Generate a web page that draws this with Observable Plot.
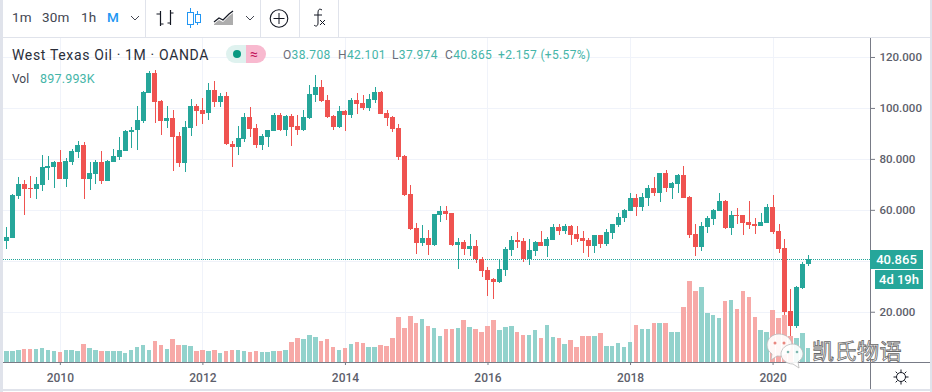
<!DOCTYPE html>
<html lang="en">
<head>
<meta charset="utf-8">
<title>West Texas Oil · 1M · OANDA</title>
<script src="https://cdn.jsdelivr.net/npm/d3@7"></script>
<script src="https://cdn.jsdelivr.net/npm/@observablehq/plot@0.6"></script>
<style>
html,body{margin:0;padding:0;background:#fff;}
#page{position:relative;width:932px;height:392px;overflow:hidden;font-family:Roboto,"Noto Sans",sans-serif;color:#131722;}
#chart{position:absolute;left:0;top:0;}
#chart svg{display:block;background:transparent;}
.t{position:absolute;white-space:pre;line-height:1;}
.line{position:absolute;}
.tb{font-size:13.5px;color:#434651;top:11px;letter-spacing:.2px;}
.up{color:#45b5a8;}
.lab{color:#6a6d78;}
.tag{position:absolute;background:#26a69a;color:#fff;font-weight:500;font-size:13px;text-align:center;}
.ohlc{top:49px;font-size:12px;letter-spacing:.35px;}
</style>
</head>
<body>
<div id="page">
  <div id="chart"></div>

  <div class="line" style="left:0;top:0;width:3px;height:392px;background:#e0e3eb"></div>
  <div class="line" style="left:930px;top:0;width:2px;height:392px;background:#e0e3eb"></div>
  <div class="line" style="left:3px;top:37px;width:927px;height:1px;background:#e0e3eb"></div>
  <div class="line" style="left:3px;top:362px;width:927px;height:1px;background:#787b86"></div>
  <div class="line" style="left:870px;top:38px;width:1px;height:351px;background:#787b86"></div>
  <div class="line" style="left:3px;top:389px;width:927px;height:2px;background:#e0e3eb"></div>
  <div class="line" style="left:145px;top:0;width:1px;height:37px;background:#e0e3eb"></div>
  <div class="line" style="left:260px;top:0;width:1px;height:37px;background:#e0e3eb"></div>
  <div class="line" style="left:299px;top:0;width:1px;height:37px;background:#e0e3eb"></div>
  <div class="line" style="left:338px;top:0;width:1px;height:37px;background:#e0e3eb"></div>

  <span class="t tb" style="left:12px">1m</span>
  <span class="t tb" style="left:42px">30m</span>
  <span class="t tb" style="left:81px">1h</span>
  <span class="t tb" style="left:107px;color:#2196f3;font-weight:500">M</span>

  <svg style="position:absolute;left:0;top:0" width="345" height="37" fill="none">
    <path d="M131 16l4 4 4-4M246 16l4 4 4-4" stroke="#434651"/>
    <path d="M160.500 11v15M160.500 14h-4M160.500 24h3M170.500 10v15M170.500 13h3M170.500 23h-3" stroke="#131722" stroke-width="1.200"/>
    <path d="M190.500 8v20M197.500 11v14" stroke="#2196f3"/>
    <rect x="187.500" y="12.500" width="6" height="12" fill="#fff" stroke="#2196f3"/>
    <rect x="195.500" y="14.500" width="5" height="8" fill="#fff" stroke="#2196f3"/>
    <path d="M214 22l5-4 4 2 6-6 4-3" stroke="#131722" stroke-width="1.200"/>
    <path d="M214 24l5-4 4 2 6-6 4-3v12h-19z" fill="#777" opacity=".6"/>
    <circle cx="279" cy="18.500" r="8.800" stroke="#131722" stroke-width="1.100"/>
    <path d="M279 13v11M273.500 18.500h11" stroke="#131722"/>
    <path d="M322 10c-3-2-4 0-4 3v10c0 3-2 4-4 2M314 15h8" stroke="#131722"/>
    <path d="M320 20l5 5M325 20l-5 5" stroke="#131722"/>
  </svg>

  <span class="t" style="left:12px;top:48px;font-size:14px;letter-spacing:.65px;color:#2a2e39">West Texas Oil · 1M · OANDA</span>
  <div class="line" style="left:226px;top:45px;width:20px;height:18px;background:#dff2ef;border-radius:9px 0 0 9px"></div>
  <div class="line" style="left:246px;top:45px;width:20px;height:18px;background:#f8b9cf;border-radius:0 9px 9px 0"></div>
  <div class="line" style="left:233px;top:50px;width:8px;height:8px;background:#089981;border-radius:50%"></div>
  <span class="t" style="left:250px;top:47px;font-size:14px;color:#c2185b">≈</span>
  <span class="t up ohlc" style="left:283px"><span class="lab">O</span>38.708</span>
  <span class="t up ohlc" style="left:338px"><span class="lab">H</span>42.101</span>
  <span class="t up ohlc" style="left:392px"><span class="lab">L</span>37.974</span>
  <span class="t up ohlc" style="left:445px"><span class="lab">C</span>40.865</span>
  <span class="t up ohlc" style="left:498px">+2.157 (+5.57%)</span>
  <span class="t" style="left:12px;top:73px;font-size:12px;color:#434651">Vol</span>
  <span class="t up" style="left:40px;top:73px;font-size:12.500px;letter-spacing:.2px">897.993K</span>

  <div class="tag" style="left:870px;top:250px;width:53px;height:19px;line-height:19px">40.865</div>
  <div class="tag" style="left:875px;top:270px;width:48px;height:19px;line-height:19px">4d 19h</div>

  <svg style="position:absolute;left:893px;top:369px" width="16" height="16" fill="none" stroke="#131722">
    <circle cx="8" cy="8" r="4.500"/>
    <path d="M8 .5v2.500M8 13v2.500M.5 8H3M13 8h2.500M2.700 2.700l1.800 1.800M11.500 11.500l1.800 1.800M2.700 13.300l1.800-1.800M11.500 4.500l1.800-1.800"/>
  </svg>

  <svg style="position:absolute;left:765px;top:333px" width="48" height="36">
    <path d="M14 1C7 1 2 6 2 12c0 4 2 7 5 9l-1 6 6-4c7 1 15-3 15-11 0-6-6-11-13-11z" fill="#fff" fill-opacity=".9" stroke="#b9b9b9" stroke-width=".8"/>
    <circle cx="10" cy="10" r="1.500" fill="#e9877f"/><circle cx="19" cy="10" r="1.500" fill="#e9877f"/>
    <path d="M28 11c-7 0-12 5-12 10s5 10 12 10l6 4-1-6c3-2 5-5 5-8 0-5-5-10-10-10z" fill="#fff" fill-opacity=".9" stroke="#b9b9b9" stroke-width=".8"/>
    <circle cx="23" cy="19" r="1.300" fill="#7fb7b0"/><circle cx="32" cy="19" r="1.300" fill="#7fb7b0"/>
  </svg>
  <span class="t" style="left:812px;top:338px;font-family:'Noto Sans CJK SC';font-size:22px;letter-spacing:.5px;color:#fff;-webkit-text-stroke:.8px #666">凯氏物语</span>
</div>

<script>
const startYear = 2009, startMonth = 3; // first candle: April 2009
const opens = [47.8,49.0,65.5,70.2,68.6,68.2,69.8,76.5,76.9,78.8,72.2,78.8,82.7,85.5,72.2,74.1,78.8,71.4,78.8,80.8,83.1,90.6,91.4,95.0,106.0,113.9,102.7,95.0,96.2,89.0,78.4,92.3,100.8,99.2,97.9,107.0,102.3,104.7,86.0,84.7,87.8,96.5,92.2,85.5,88.6,91.0,97.3,91.4,96.9,92.9,91.4,96.1,105.1,108.2,103.1,96.9,92.5,98.8,97.3,103.1,102.0,100.0,103.1,106.3,98.0,96.5,92.2,81.2,66.3,53.0,47.0,49.0,46.3,58.0,59.6,58.8,46.3,47.5,44.7,45.9,40.8,36.5,33.0,31.8,36.5,44.3,48.2,47.8,40.8,43.9,47.5,45.9,48.2,53.3,51.8,53.7,50.6,49.0,48.2,45.9,50.2,46.7,51.0,54.1,56.8,59.6,64.7,61.2,64.7,68.6,66.6,74.5,68.6,70.2,73.7,65.1,50.6,45.5,53.3,56.4,59.6,63.5,52.9,58.0,58.0,55.3,54.5,53.7,54.9,61.2,51.7,45.1,20.1,14.5,29.3,38.708];
const highs = [53.3,66.3,72.9,71.8,73.3,72.9,81.6,81.2,79.2,83.5,80.4,83.9,87.0,86.7,78.8,79.6,83.1,79.6,83.9,88.6,91.4,92.7,100.8,106.5,114.5,114.9,103.1,100.8,99.0,90.6,95.0,103.5,101.5,103.9,109.7,110.6,105.7,106.1,87.0,93.0,98.0,100.4,93.7,89.8,91.4,98.0,98.0,97.3,97.6,97.3,99.2,109.0,112.9,111.0,105.1,97.3,100.8,99.2,103.9,105.9,105.1,105.5,108.2,106.7,99.2,96.9,93.7,81.6,69.8,54.9,54.1,52.2,58.4,61.6,61.6,58.8,49.0,48.2,50.6,48.2,41.6,37.7,33.4,40.8,45.5,49.8,51.4,49.0,48.6,47.9,51.8,49.4,54.5,54.5,54.5,54.1,53.7,51.8,49.0,50.2,50.2,52.6,54.5,58.8,60.4,66.6,66.2,66.6,69.8,72.9,74.5,75.7,71.0,74.1,77.2,65.5,54.5,55.3,57.6,60.4,66.6,63.9,59.6,60.8,58.0,63.5,56.8,58.8,62.3,65.9,54.5,48.6,29.0,30.0,39.7,42.101];
const lows = [44.7,49.0,64.3,58.0,64.7,64.3,67.4,71.8,68.6,72.2,69.0,77.6,80.4,64.3,67.8,70.2,70.2,71.4,78.8,79.6,83.1,84.3,83.5,94.2,105.7,94.0,89.4,92.0,75.3,76.9,74.9,89.0,93.0,93.7,95.3,100.5,100.5,85.5,76.9,81.6,86.7,88.6,84.3,83.5,84.7,91.0,91.0,89.0,85.1,89.4,91.0,95.7,102.4,102.4,96.1,91.4,92.2,91.0,96.1,97.6,99.2,98.8,102.0,97.6,93.0,90.6,79.6,65.5,52.2,42.8,45.9,42.4,45.9,55.3,56.1,45.9,36.9,42.4,42.0,39.2,33.7,26.3,25.1,31.4,34.1,42.0,45.1,39.6,38.4,42.0,45.9,41.6,48.2,50.2,50.6,46.3,47.5,43.1,41.6,43.1,45.1,45.9,48.6,53.3,55.3,59.6,57.6,59.6,61.5,65.5,63.1,67.0,64.3,66.6,64.7,49.0,41.9,43.9,51.0,54.1,59.6,52.5,50.2,54.5,50.2,52.5,50.6,53.7,54.9,50.6,43.1,18.8,10.3,13.7,28.9,37.974];
const closes = [49.4,65.9,70.2,68.2,68.2,70.2,76.9,77.3,78.8,72.2,79.2,83.1,85.5,72.2,74.5,78.8,71.4,79.2,81.2,83.5,91.0,91.3,95.3,106.3,113.9,102.5,95.0,96.0,88.6,78.4,92.7,100.8,98.8,97.6,107.0,102.3,104.7,86.0,84.7,88.2,96.5,91.8,85.5,89.0,91.4,97.3,91.4,96.9,92.5,91.4,96.5,105.5,108.2,102.7,96.5,92.5,98.8,97.3,103.1,101.6,100.0,103.5,106.3,97.6,96.1,91.8,80.8,65.9,52.6,47.0,49.0,46.3,58.4,59.6,58.4,46.3,47.5,44.7,45.9,40.8,36.1,32.6,31.8,36.9,44.7,48.2,47.5,40.8,44.3,47.5,45.9,48.6,53.3,51.8,53.7,50.2,48.6,47.9,45.9,50.2,46.7,51.4,54.5,57.2,60.0,64.7,61.2,65.1,68.6,66.6,74.5,68.6,70.6,73.7,64.7,50.2,45.5,53.7,56.8,60.0,63.5,52.9,58.0,57.6,54.9,54.1,53.7,55.3,61.2,51.3,44.7,20.0,14.5,29.7,38.8,40.865];
const volumesK = [714,714,777,840,840,840,903,777,714,651,777,777,714,1155,903,777,714,714,714,714,588,777,966,1092,777,1344,1092,840,1470,1092,1092,1029,714,777,714,777,588,714,777,777,714,651,714,651,651,714,714,777,1281,1533,1470,1722,1596,1344,1470,966,777,903,1155,1281,1218,966,966,1092,1029,1533,2856,2163,2919,2478,2730,2289,2163,1659,2100,2100,2163,2667,2226,2100,1911,2289,2667,2037,2226,2289,1911,1722,1722,2037,1533,2352,1596,1533,1155,1407,966,1659,1659,1659,1848,1029,1029,1218,966,1281,2352,2100,2100,2478,2478,2478,1911,1911,3486,5124,4494,4746,3108,2982,2793,3864,3927,3360,4494,4116,2856,2037,1911,3297,2793,2982,1617,1533,1848,898];
const yearTicks = [2010,2012,2014,2016,2018,2020];
const priceGrid = [20,40,60,80,100,120];
const priceLabels = [20,60,80,100,120];
const lastClose = 40.865;

const upColor = "#26a69a", downColor = "#ef5350";
const upVol = "#92d2cc", downVol = "#f7a9a7";

const rows = opens.map((open, i) => ({
  i, open, high: highs[i], low: lows[i], close: closes[i], vol: volumesK[i],
  up: closes[i] >= open
}));

const yMin = 0.27, yMax = 127.45;
const xMin = -0.572, xMax = 145.4;
const volumePerPrice = 160.65; // thousand contracts per unit of the price scale
const volToY = v => yMin + v / volumePerPrice;
const monthIndex = y => (y - startYear) * 12 - startMonth;

const chart = Plot.plot({
  width: 932, height: 392,
  marginLeft: 3, marginRight: 62, marginTop: 38, marginBottom: 30,
  style: {background: "transparent", fontFamily: "Roboto, 'Noto Sans', sans-serif", fontSize: "12px"},
  x: {type: "linear", domain: [xMin, xMax], label: null},
  y: {type: "linear", domain: [yMin, yMax], label: null},
  color: {type: "identity"},
  marks: [
    Plot.ruleY(priceGrid, {stroke: "#f0f3fa", strokeWidth: 1, shapeRendering: "crispEdges"}),
    Plot.ruleX(yearTicks.map(monthIndex), {stroke: "#f0f3fa", strokeWidth: 1, shapeRendering: "crispEdges"}),
    Plot.rect(rows, {
      x1: d => d.i - 0.38, x2: d => d.i + 0.38,
      y1: yMin, y2: d => volToY(d.vol),
      fill: d => d.up ? upVol : downVol, shapeRendering: "crispEdges"
    }),
    Plot.ruleY([lastClose], {stroke: upColor, strokeWidth: 1, strokeDasharray: "1 1", shapeRendering: "crispEdges"}),
    Plot.ruleX(rows, {
      x: "i", y1: "low", y2: "high",
      stroke: d => d.up ? upColor : downColor, strokeWidth: 1, shapeRendering: "crispEdges"
    }),
    Plot.rect(rows, {
      x1: d => d.i - 0.42, x2: d => d.i + 0.42,
      y1: "open", y2: "close",
      fill: d => d.up ? upColor : downColor, shapeRendering: "crispEdges"
    }),
    Plot.axisX(yearTicks.map(monthIndex), {
      anchor: "bottom", tickSize: 3, tickPadding: 8, stroke: "#787b86", fill: "#5d606b",
      tickFormat: i => String(startYear + Math.floor((i + startMonth) / 12)), label: null, fontSize: 12, fontWeight: 500
    }),
    Plot.axisY(priceLabels, {
      anchor: "right", tickSize: 4, tickPadding: 5, stroke: "#787b86", fill: "#5d606b",
      tickFormat: v => v.toFixed(3), label: null, fontSize: 11.5, fontWeight: 500
    })
  ]
});
document.getElementById("chart").appendChild(chart);
</script>
</body>
</html>
